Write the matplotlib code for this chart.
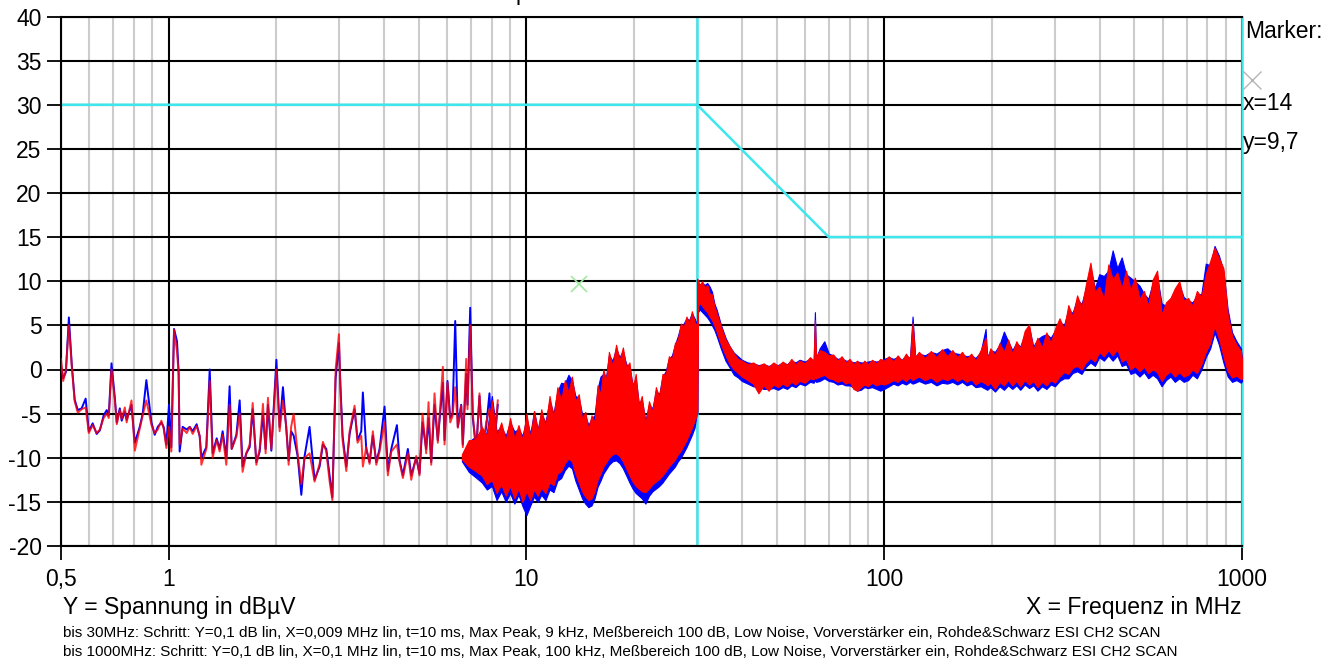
import matplotlib.pyplot as plt
from matplotlib.lines import Line2D
from matplotlib.ticker import FixedLocator, NullFormatter

plt.rcParams['font.family'] = ['Liberation Sans', 'DejaVu Sans']
plt.rcParams['axes.unicode_minus'] = False

# --- 0.5 .. 8.3 MHz: single sweep points (MHz, dBuV) ---
lf_freq = [0.5, 0.507, 0.516, 0.526, 0.536, 0.546, 0.557, 0.571, 0.586, 0.598,
           0.613, 0.629, 0.642, 0.658, 0.671, 0.68, 0.692, 0.707, 0.716, 0.73,
           0.739, 0.754, 0.763, 0.787, 0.804, 0.83, 0.846, 0.866, 0.895, 0.914,
           0.932, 0.954, 0.968, 0.985, 1.002, 1.017, 1.035, 1.055, 1.066, 1.073,
           1.094, 1.123, 1.145, 1.167, 1.197, 1.221, 1.234, 1.274, 1.302, 1.327,
           1.362, 1.388, 1.415, 1.449, 1.48, 1.5, 1.546, 1.579, 1.609, 1.648,
           1.684, 1.717, 1.758, 1.796, 1.834, 1.866, 1.894, 1.936, 2.0, 2.042,
           2.086, 2.132, 2.164, 2.199, 2.235, 2.293, 2.348, 2.398, 2.476, 2.557,
           2.641, 2.698, 2.757, 2.817, 2.867, 2.928, 2.991, 3.018, 3.062, 3.136,
           3.204, 3.308, 3.372, 3.453, 3.489, 3.566, 3.643, 3.721, 3.804, 3.885,
           4.012, 4.098, 4.19, 4.344, 4.419, 4.514, 4.661, 4.764, 4.919, 5.024,
           5.122, 5.245, 5.324, 5.417, 5.534, 5.652, 5.838, 5.902, 6.016, 6.122,
           6.213, 6.322, 6.429, 6.57, 6.638, 6.785, 6.842, 6.962, 7.079, 7.235,
           7.391, 7.549, 7.716, 7.881, 8.052, 8.314]
lf_red = [1.2, -1.3, 0.0, 5.0, 0.3, -3.6, -4.9, -4.5, -4.3, -7.2,
          -6.3, -7.2, -6.8, -5.5, -5.0, -5.5, 0.0, -3.5, -6.2, -4.6,
          -5.6, -4.3, -6.0, -3.5, -9.2, -6.7, -5.2, -3.5, -6.3, -7.2,
          -6.8, -5.8, -6.7, -8.9, -6.5, -9.3, 4.5, 2.0, -0.5, -8.5,
          -6.7, -7.2, -6.5, -7.3, -6.4, -7.5, -10.8, -9.0, -1.3, -10.0,
          -8.0, -9.3, -7.4, -10.8, -4.0, -9.0, -7.6, -5.0, -11.6, -9.5,
          -8.5, -3.8, -10.8, -9.0, -3.9, -9.5, -3.2, -9.0, 0.0, -7.0,
          -3.5, -6.5, -10.8, -6.5, -5.0, -9.5, -13.0, -10.0, -9.5, -12.7,
          -10.7, -8.2, -9.3, -12.7, -14.8, 0.0, 4.0, -2.0, -8.0, -11.5,
          -7.0, -4.1, -8.3, -7.5, -11.0, -8.8, -10.7, -7.0, -10.8, -9.3,
          -6.0, -12.0, -9.3, -8.5, -10.5, -12.3, -9.5, -12.5, -9.8, -12.0,
          -5.0, -9.5, -3.7, -10.8, -2.7, -8.3, 0.3, -8.5, -1.5, -6.0,
          -5.3, -2.0, -6.6, -4.1, -8.8, 1.2, -4.5, 5.0, -5.0, -9.5,
          -2.7, -9.3, -6.0, -4.5, -11.0, -3.5]
lf_blue = [0.5, -1.0, -0.3, 5.9, 0.5, -3.4, -4.6, -4.4, -3.3, -7.0,
           -6.1, -7.3, -6.9, -5.2, -4.6, -5.2, 0.7, -3.2, -6.0, -4.4,
           -5.8, -4.8, -5.7, -4.0, -8.3, -6.5, -5.0, -1.2, -6.0, -7.4,
           -6.5, -6.0, -6.5, -8.5, -4.0, -8.8, 4.6, 3.2, -0.3, -9.3,
           -6.5, -6.8, -6.5, -7.0, -6.2, -7.6, -10.0, -8.8, 0.0, -9.5,
           -7.8, -9.0, -7.0, -10.0, -1.9, -9.0, -7.4, -3.5, -11.0, -9.5,
           -8.8, -4.5, -10.5, -9.3, -5.0, -9.0, -4.0, -9.2, 1.1, -6.5,
           -2.0, -6.8, -10.3, -7.0, -7.5, -9.8, -14.2, -9.8, -6.5, -12.5,
           -11.0, -8.5, -9.0, -12.0, -14.5, -1.0, 3.0, -1.5, -7.5, -11.0,
           -7.3, -4.5, -8.0, -7.0, -2.6, -9.0, -10.5, -7.5, -10.5, -9.0,
           -4.2, -11.5, -9.0, -6.3, -10.3, -12.0, -9.0, -12.0, -10.0, -11.8,
           -6.0, -9.0, -5.5, -10.5, -4.0, -8.0, -1.5, -8.0, -1.3, -5.5,
           -5.0, 5.5, -6.5, -4.0, -8.5, -0.5, -4.0, 7.0, -5.5, -9.0,
           -3.0, -9.0, -6.5, -2.7, -10.5, -4.0]

# --- 6.6 .. 30 MHz: dense part, upper / lower envelope ---
b1_freq = [6.6, 6.9, 7.2, 7.5, 7.75,
           8.0, 8.25, 8.5, 8.75, 9.0, 9.25, 9.5, 9.75, 10.0, 10.25,
           10.5, 10.75, 11.0, 11.3, 11.6, 11.9, 12.2, 12.5, 12.8, 13.1,
           13.4, 13.7, 14.0, 14.3, 14.6, 14.9, 15.2, 15.5, 15.8, 16.1,
           16.4, 16.7, 17.0, 17.4, 17.8, 18.2, 18.6, 19.0, 19.4, 19.8,
           20.2, 20.6, 21.0, 21.5, 22.0, 22.5, 23.0, 23.5, 24.0, 24.5,
           25.0, 25.5, 26.0, 26.5, 27.0, 27.5, 28.0, 28.5, 29.0, 29.5,
           29.9]
b1_red_hi = [-9.6, -8.0, -8.0, -6.5, -7.5,
             -3.5, -7.5, -6.0, -8.0, -5.5, -7.8, -6.3, -8.0, -5.0, -7.8,
             -4.7, -7.0, -4.5, -6.5, -3.0, -5.5, -2.0, -3.5, -1.2, -2.6,
             -0.8, -3.6, -2.8, -5.6, -4.8, -6.8, -5.2, -6.0, -1.8, -2.8,
             0.0, -1.2, 2.0, 0.4, 2.8, 1.0, 2.5, 0.2, 0.8, -2.2,
             -0.5, -4.2, -3.0, -6.2, -3.6, -4.8, -2.0, -3.2, -0.5, -0.6,
             1.5, 1.2, 3.0, 3.4, 5.2, 4.8, 6.0, 5.2, 6.6, 5.4,
             5.0]
b1_red_lo = [-10.2, -11.0, -11.5, -12.0, -13.0,
             -12.5, -14.0, -13.0, -14.3, -13.2, -14.6, -13.5, -15.0, -13.8, -14.8,
             -13.6, -14.3, -13.4, -14.0, -12.8, -13.1, -11.8, -11.5, -10.6, -10.1,
             -10.4, -11.8, -12.8, -13.8, -14.4, -14.8, -14.6, -13.8, -12.5, -11.8,
             -11.0, -10.5, -10.0, -9.6, -9.5, -9.8, -10.4, -11.2, -12.0, -12.7,
             -13.2, -13.5, -13.8, -13.9, -13.5, -13.0, -12.7, -12.4, -12.0, -11.5,
             -11.0, -10.6, -10.2, -9.6, -9.2, -8.6, -8.0, -7.3, -6.6, -5.8,
             -5.2]
b1_blue_hi = [-9.8, -8.2, -7.6, -7.0, -7.2,
              -3.0, -7.0, -6.5, -7.5, -6.0, -7.0, -6.8, -7.5, -5.5, -7.3,
              -4.7, -6.8, -5.0, -6.0, -3.5, -5.0, -2.5, -1.5, -1.6, -0.6,
              -1.2, -3.0, -3.2, -5.0, -5.2, -6.3, -5.5, -5.2, -2.2, -0.8,
              -0.5, -0.8, 1.6, 1.0, 2.4, 1.4, 2.1, 0.6, 0.4, -1.8,
              -1.0, -3.8, -3.4, -5.8, -4.0, -4.4, -2.4, -2.8, -0.8, -0.2,
              1.2, 1.6, 2.8, 3.8, 5.0, 5.2, 5.8, 5.6, 6.4, 5.8,
              5.2]
b1_blue_lo = [-10.4, -11.6, -12.2, -12.8, -13.6,
              -13.2, -14.8, -13.8, -15.0, -14.0, -15.2, -14.2, -15.5, -16.5, -15.4,
              -14.4, -15.0, -14.2, -14.8, -13.6, -13.9, -12.6, -12.3, -11.4, -10.9,
              -11.2, -12.6, -13.6, -14.6, -15.2, -15.6, -15.4, -14.6, -13.3, -12.6,
              -11.8, -11.3, -10.8, -10.4, -10.3, -10.6, -11.2, -12.0, -12.8, -13.5,
              -14.0, -14.3, -14.6, -15.2, -14.3, -13.8, -13.5, -13.2, -12.8, -12.3,
              -11.8, -11.4, -11.0, -10.4, -10.0, -9.4, -8.8, -8.1, -7.4, -6.6,
              -5.0]

# --- 30 .. 1000 MHz ---
b2_freq = [30.0, 30.15, 30.5, 31.0, 31.5, 32.0, 32.5, 33.0, 33.5, 34.0,
           35.0, 36.0, 37.0, 38.0, 39.0, 40.0, 41.5, 43.0, 44.5, 46.0,
           47.5, 49.0, 50.5, 52.0, 53.5, 55.0, 56.5, 58.0, 60.0, 62.0,
           63.5, 64.0, 64.5, 66.0, 68.0, 70.0, 72.0, 74.0, 76.0, 78.0,
           80.0, 82.0, 84.0, 86.0, 88.0, 90.0, 92.5, 95.0, 97.5, 100.0,
           103, 106, 109, 112, 115, 118, 120, 122, 125, 130,
           135, 140, 145, 150, 155, 160, 165, 170, 175, 180,
           186, 192, 194, 198, 204, 210, 216, 222, 228, 234,
           240, 247, 254, 261, 268, 276, 284, 292, 300, 309,
           318, 327, 336, 346, 356, 366, 377, 388, 399, 411,
           423, 435, 448, 461, 474, 488, 502, 517, 532, 547,
           563, 579, 596, 613, 631, 649, 668, 687, 707, 727,
           748, 770, 792, 815, 838, 862, 887, 912, 938, 965,
           993, 1000]
b2_red_hi = [10.3, 10.0, 9.6, 10.0, 9.2, 9.6, 8.6, 8.5, 7.2, 6.4,
             4.8, 3.4, 2.6, 1.8, 1.2, 1.0, 0.6, 0.8, 0.4, 0.7,
             0.3, 0.8, 0.4, 0.9, 0.5, 1.2, 0.6, 1.0, 0.7, 1.4,
             1.0, 5.6, 1.2, 2.2, 2.0, 1.6, 1.7, 1.0, 1.5, 0.8,
             1.2, 0.6, 1.0, 0.5, 1.0, 0.6, 1.1, 0.7, 1.2, 1.0,
             1.5, 0.9, 1.6, 1.0, 1.8, 1.1, 5.3, 1.4, 2.0, 1.3,
             2.1, 1.4, 2.3, 1.5, 2.2, 1.4, 2.0, 1.2, 1.8, 1.0,
             2.2, 3.6, 1.2, 2.4, 1.6, 3.0, 2.0, 3.4, 1.8, 3.2,
             2.4, 4.4, 5.1, 2.2, 3.6, 2.5, 4.2, 3.0, 4.6, 5.8,
             4.6, 7.3, 6.0, 8.4, 7.0, 9.6, 12.1, 8.8, 9.4, 8.0,
             11.9, 10.2, 11.0, 9.2, 11.2, 9.0, 10.4, 8.0, 8.9, 7.2,
             10.2, 11.2, 6.2, 7.6, 8.1, 9.2, 10.0, 7.8, 8.1, 7.2,
             8.9, 8.2, 10.8, 12.3, 13.8, 12.6, 11.5, 6.2, 3.8, 2.8,
             2.1, 1.0]
b2_red_lo = [-4.8, 7.2, 7.5, 7.2, 6.8, 6.5, 6.0, 5.6, 5.0, 4.3,
             2.8, 1.6, 0.6, 0.0, -0.4, -0.8, -1.2, -1.6, -2.7, -1.8,
             -2.4, -1.7, -2.0, -1.6, -1.9, -1.4, -1.7, -1.3, -1.5, -1.0,
             -1.1, -0.8, -1.0, -0.8, -0.6, -1.0, -1.1, -1.4, -1.2, -1.6,
             -1.4, -2.2, -2.4, -2.0, -1.7, -1.9, -1.5, -1.8, -1.6, -1.7,
             -1.5, -1.2, -1.4, -1.0, -1.3, -0.9, -1.2, -1.0, -0.8, -1.2,
             -0.9, -1.4, -1.0, -1.2, -0.9, -1.3, -1.0, -1.4, -1.1, -1.7,
             -1.3, -1.6, -1.8, -1.5, -2.2, -1.4, -1.8, -1.2, -1.8, -1.3,
             -1.9, -1.2, -1.7, -1.3, -2.0, -1.4, -1.8, -1.2, -1.5, -0.8,
             -0.3, -0.5, 0.2, 0.4, 0.0, 0.8, 1.3, 0.9, 2.0, 1.5,
             2.2, 1.6, 2.3, 0.9, 1.2, 0.0, 0.4, -0.2, 0.3, -0.4,
             0.0, -0.3, -1.3, -0.6, -0.2, -0.8, -0.3, -0.8, -0.6, 0.0,
             -0.4, 0.6, 2.0, 3.0, 4.9, 3.5, 1.5, -0.2, -0.9, -0.7,
             -1.1, -1.0]
b2_blue_hi = [10.0, 10.0, 9.5, 9.8, 9.6, 9.8, 9.4, 8.8, 7.5, 6.8,
              5.0, 3.6, 2.6, 1.9, 1.5, 1.1, 0.8, 0.7, 0.5, 0.6,
              0.4, 0.6, 0.5, 0.8, 0.6, 1.0, 0.8, 1.1, 0.9, 1.2,
              1.0, 6.5, 1.3, 2.4, 3.2, 1.8, 1.6, 1.2, 1.3, 1.0,
              1.0, 0.8, 0.9, 0.8, 0.8, 0.9, 1.0, 0.9, 1.0, 1.2,
              1.4, 1.2, 1.4, 1.1, 1.6, 1.3, 6.0, 1.5, 1.8, 1.6,
              2.0, 1.8, 2.2, 2.4, 1.9, 1.8, 1.7, 1.5, 1.6, 1.3,
              2.0, 4.6, 1.4, 2.2, 2.0, 2.8, 4.3, 3.2, 2.2, 3.0,
              2.6, 4.0, 4.8, 2.6, 3.4, 3.8, 4.0, 3.6, 4.4, 5.4,
              5.0, 6.8, 6.4, 8.0, 7.4, 9.2, 11.5, 9.2, 10.8, 10.6,
              11.2, 13.5, 11.5, 12.7, 10.8, 10.4, 10.0, 9.5, 8.6, 8.0,
              9.8, 10.6, 7.5, 7.2, 8.0, 8.8, 9.6, 8.2, 7.8, 7.6,
              8.4, 8.6, 12.0, 11.8, 14.0, 12.9, 11.2, 6.8, 4.2, 3.2,
              2.4, 1.2]
b2_blue_lo = [-5.0, 6.5, 6.8, 6.5, 6.2, 5.9, 5.5, 5.0, 4.5, 3.8,
              2.3, 1.0, 0.2, -0.6, -0.9, -1.3, -1.6, -1.9, -2.0, -2.2,
              -2.2, -2.1, -2.3, -2.0, -2.2, -1.8, -2.0, -1.6, -1.8, -1.4,
              -1.5, -1.2, -1.4, -1.3, -1.0, -1.3, -1.4, -1.7, -1.6, -1.8,
              -1.8, -2.0, -2.4, -2.3, -2.0, -2.1, -2.0, -2.2, -2.4, -2.2,
              -1.9, -1.6, -1.8, -1.5, -1.7, -1.4, -1.6, -1.5, -1.3, -1.6,
              -1.4, -1.8, -1.5, -1.6, -1.4, -1.7, -1.4, -1.8, -1.6, -2.0,
              -1.9, -2.2, -2.3, -2.0, -2.5, -1.9, -2.3, -1.8, -2.2, -1.8,
              -2.3, -1.7, -2.1, -1.8, -2.4, -1.9, -2.2, -1.7, -1.9, -1.3,
              -1.0, -1.0, -0.4, -0.2, -0.5, 0.3, 0.8, 0.4, 1.4, 1.0,
              1.6, 1.0, 1.6, 0.4, 0.6, -0.5, -0.3, -0.8, -0.3, -1.0,
              -0.6, -1.0, -1.9, -1.2, -0.8, -1.4, -1.0, -1.4, -1.2, -0.6,
              -1.0, 0.0, 1.4, 2.4, 4.2, 2.8, 0.8, -0.8, -1.4, -1.2,
              -1.5, -1.3]

# limit line and marker
limit_f = [0.5, 30, 70, 1000]
limit_db = [30, 30, 15, 15]
marker_f = 14
marker_db = 9.7

x_ticks = [0.5, 1, 10, 100, 1000]
x_ticklabels = ['0,5', '1', '10', '100', '1000']
y_ticks = list(range(-20, 45, 5))

RED = '#ff0000'
BLUE = '#0000ff'
CYAN = '#3ee6ee'

fig = plt.figure(figsize=(13.38, 6.66), dpi=100)
ax = fig.add_axes([61 / 1338, 120 / 666, 1181 / 1338, 529.5 / 666])
ax.set_xscale('log')
ax.set_xlim(0.5, 1000)
ax.set_ylim(-20, 40)

minor = [m * d for d in (0.1, 1, 10, 100) for m in range(2, 10) if 0.5 < m * d < 1000]
ax.set_xticks(x_ticks)
ax.set_xticklabels(x_ticklabels)
ax.xaxis.set_minor_locator(FixedLocator(minor))
ax.xaxis.set_minor_formatter(NullFormatter())
ax.set_yticks(y_ticks)
ax.tick_params(which='minor', length=0)
ax.tick_params(which='major', direction='out', length=10, width=1.3,
               labelsize=16.5, pad=4)
ax.tick_params(axis='x', pad=6)
ax.grid(True, which='minor', axis='x', color='#cccccc', lw=1.5)
ax.grid(True, which='major', color='black', lw=1.5)
ax.set_axisbelow(True)
for side in ('left', 'top', 'bottom'):
    ax.spines[side].set_linewidth(1.5)
ax.spines['right'].set_visible(False)

# limit line
ax.plot(limit_f, limit_db, color=CYAN, lw=1.8, zorder=2)
ax.axvline(30, color=CYAN, lw=1.8, zorder=2)
ax.axvline(1000, color=CYAN, lw=1.8, zorder=2, clip_on=False)

# blue sweep
ax.fill_between(b1_freq, b1_blue_lo, b1_blue_hi, color=BLUE, lw=0.8, zorder=3)
ax.fill_between(b2_freq, b2_blue_lo, b2_blue_hi, color=BLUE, lw=0.8, zorder=3)
ax.plot(lf_freq, lf_blue, color=BLUE, lw=1.4, zorder=3)

# red sweep
ax.fill_between(b1_freq, b1_red_lo, b1_red_hi, color=RED, lw=0.8, zorder=4)
ax.fill_between(b2_freq, b2_red_lo, b2_red_hi, color=RED, lw=0.8, zorder=4)
ax.plot(lf_freq, lf_red, color=RED, lw=1.4, alpha=0.8, zorder=4)

# marker
ax.plot([marker_f], [marker_db], marker='x', color='#a0eaa0', ms=12, mew=1.2, zorder=5)

# texts
fig.text(63 / 1338, 1 - 614 / 666, 'Y = Spannung in dBµV', fontsize=16.5, va='baseline')
fig.text(1242 / 1338, 1 - 614 / 666, 'X = Frequenz in MHz', fontsize=16.5,
         va='baseline', ha='right')
fig.text(63 / 1338, 1 - 637 / 666,
         'bis 30MHz: Schritt: Y=0,1 dB lin, X=0,009 MHz lin, t=10 ms, Max Peak, 9 kHz, '
         'Meßbereich 100 dB, Low Noise, Vorverstärker ein, Rohde&Schwarz ESI CH2 SCAN',
         fontsize=11, va='baseline')
fig.text(63 / 1338, 1 - 656 / 666,
         'bis 1000MHz: Schritt: Y=0,1 dB lin, X=0,1 MHz lin, t=10 ms, Max Peak, 100 kHz, '
         'Meßbereich 100 dB, Low Noise, Vorverstärker ein, Rohde&Schwarz ESI CH2 SCAN',
         fontsize=11, va='baseline')

fig.text(1245 / 1338, 1 - 31 / 666, 'Marker:', fontsize=16.5, va='center')
fig.add_artist(Line2D([1252 / 1338], [1 - 80 / 666], transform=fig.transFigure,
                      marker='x', color='#b4b4b4', ms=13, mew=1.0))
fig.text(1243 / 1338, 1 - 103 / 666, 'x=%g' % marker_f, fontsize=16.5, va='center')
fig.text(1243 / 1338, 1 - 143 / 666, 'y=' + ('%g' % marker_db).replace('.', ','),
         fontsize=16.5, va='center')
fig.text(516 / 1338, 1.0, 'p', fontsize=16.5, va='baseline')

fig.savefig('out.png', dpi=100)
